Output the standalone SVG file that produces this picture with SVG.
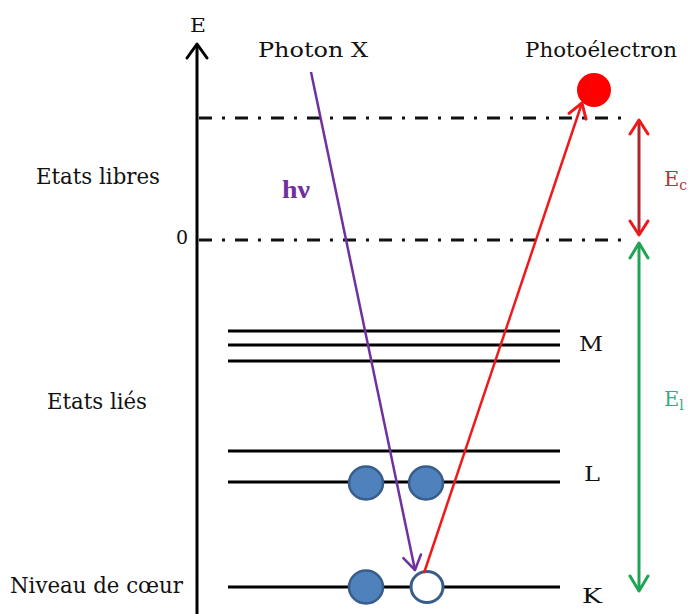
<svg xmlns="http://www.w3.org/2000/svg" width="688" height="614" viewBox="0 0 688 614">
<style>
.t{font-family:"DejaVu Serif","Liberation Serif",serif;fill:#111;}
.lvl{stroke:#000;stroke-width:3;}
.dd{stroke:#111;stroke-width:3;stroke-dasharray:13 10 3 10;fill:none;}
.e{fill:#4f81bd;stroke:#385d8a;stroke-width:2.5;}
.h{fill:#fff;stroke:#385d8a;stroke-width:3;}
</style>
<defs>
<marker id="mk" markerUnits="userSpaceOnUse" viewBox="-17 -12 20 24" refX="0" refY="0" markerWidth="20" markerHeight="24" orient="auto-start-reverse"><path d="M-14,-10 L0,0 L-14,10" fill="none" stroke="#000" stroke-width="3" stroke-linecap="round" stroke-linejoin="round"/></marker>
<marker id="mp" markerUnits="userSpaceOnUse" viewBox="-17 -12 20 24" refX="0" refY="0" markerWidth="20" markerHeight="24" orient="auto-start-reverse"><path d="M-14,-9 L0,0 L-14,9" fill="none" stroke="#7030a0" stroke-width="2.5" stroke-linecap="round" stroke-linejoin="round"/></marker>
<marker id="mr" markerUnits="userSpaceOnUse" viewBox="-17 -12 20 24" refX="0" refY="0" markerWidth="20" markerHeight="24" orient="auto-start-reverse"><path d="M-14,-9 L0,0 L-14,9" fill="none" stroke="#f01818" stroke-width="3" stroke-linecap="round" stroke-linejoin="round"/></marker>
<marker id="mg" markerUnits="userSpaceOnUse" viewBox="-17 -12 20 24" refX="0" refY="0" markerWidth="20" markerHeight="24" orient="auto-start-reverse"><path d="M-15,-9 L0,0 L-15,9" fill="none" stroke="#1fa456" stroke-width="3" stroke-linecap="round" stroke-linejoin="round"/></marker>
</defs>

<g id="axis">
<line x1="197" y1="614" x2="197" y2="44" stroke="#000" stroke-width="3" marker-end="url(#mk)"/>
<text class="t" x="190" y="32" font-size="19" textLength="16" lengthAdjust="spacingAndGlyphs">E</text>
</g>

<g id="free-levels">
<line class="dd" x1="199" y1="118" x2="621" y2="118"/>
<line class="dd" x1="199" y1="240" x2="621" y2="240"/>
<text class="t" x="176" y="244" font-size="19">0</text>
<text class="t" x="36" y="184" font-size="23" textLength="124" lengthAdjust="spacingAndGlyphs">Etats libres</text>
</g>

<g id="level-M">
<line class="lvl" x1="228" y1="331" x2="560" y2="331"/>
<line class="lvl" x1="228" y1="345" x2="560" y2="345"/>
<line class="lvl" x1="228" y1="361" x2="560" y2="361"/>
<text class="t" x="579" y="351" font-size="21" textLength="24" lengthAdjust="spacingAndGlyphs">M</text>
</g>

<g id="level-L">
<line class="lvl" x1="228" y1="451" x2="560" y2="451"/>
<line class="lvl" x1="228" y1="482" x2="560" y2="482"/>
<text class="t" x="584" y="481" font-size="21" textLength="16" lengthAdjust="spacingAndGlyphs">L</text>
</g>

<g id="level-K">
<line class="lvl" x1="228" y1="587" x2="560" y2="587"/>
<text class="t" x="582" y="603" font-size="21" textLength="20" lengthAdjust="spacingAndGlyphs">K</text>
</g>

<text class="t" x="47" y="409" font-size="23" textLength="100" lengthAdjust="spacingAndGlyphs">Etats liés</text>
<text class="t" x="10" y="593" font-size="23" textLength="173" lengthAdjust="spacingAndGlyphs">Niveau de cœur</text>

<g id="electrons">
<ellipse class="e" cx="366" cy="483" rx="17" ry="16.5"/>
<ellipse class="e" cx="426" cy="483" rx="17" ry="16.5"/>
<ellipse class="e" cx="366" cy="587" rx="17" ry="16.5"/>
<ellipse class="h" cx="427" cy="587" rx="16" ry="15.5"/>
</g>

<g id="connectors">
<line x1="311" y1="72" x2="415" y2="570" stroke="#7030a0" stroke-width="2.5" marker-end="url(#mp)"/>
<line x1="424" y1="573" x2="582" y2="103" stroke="#f01818" stroke-width="2.5" marker-end="url(#mr)"/>
<line x1="639" y1="120" x2="639" y2="235" stroke="#b0262e" stroke-width="3" marker-start="url(#mr)" marker-end="url(#mr)"/>
<line x1="639" y1="243" x2="639" y2="591" stroke="#1fa456" stroke-width="3" marker-start="url(#mg)" marker-end="url(#mg)"/>
</g>

<g id="photon">
<text class="t" x="258" y="57" font-size="21" textLength="110" lengthAdjust="spacingAndGlyphs">Photon X</text>
<text x="282" y="198" font-family="'Liberation Serif',serif" font-size="25" font-weight="bold" fill="#7030a0" textLength="28" lengthAdjust="spacingAndGlyphs">hν</text>
</g>

<g id="photoelectron">
<text class="t" x="525" y="57" font-size="21" textLength="152" lengthAdjust="spacingAndGlyphs">Photoélectron</text>
<circle cx="594" cy="90" r="17" fill="#ff0000"/>
</g>

<g id="Ec">
<text class="t" x="664" y="186" font-size="21" style="fill:#b4343c">E<tspan font-size="14" dy="4">c</tspan></text>
</g>
<g id="El">
<text class="t" x="664" y="406" font-size="21" style="fill:#3caa82">E<tspan font-size="14" dy="4">l</tspan></text>
</g>
</svg>
